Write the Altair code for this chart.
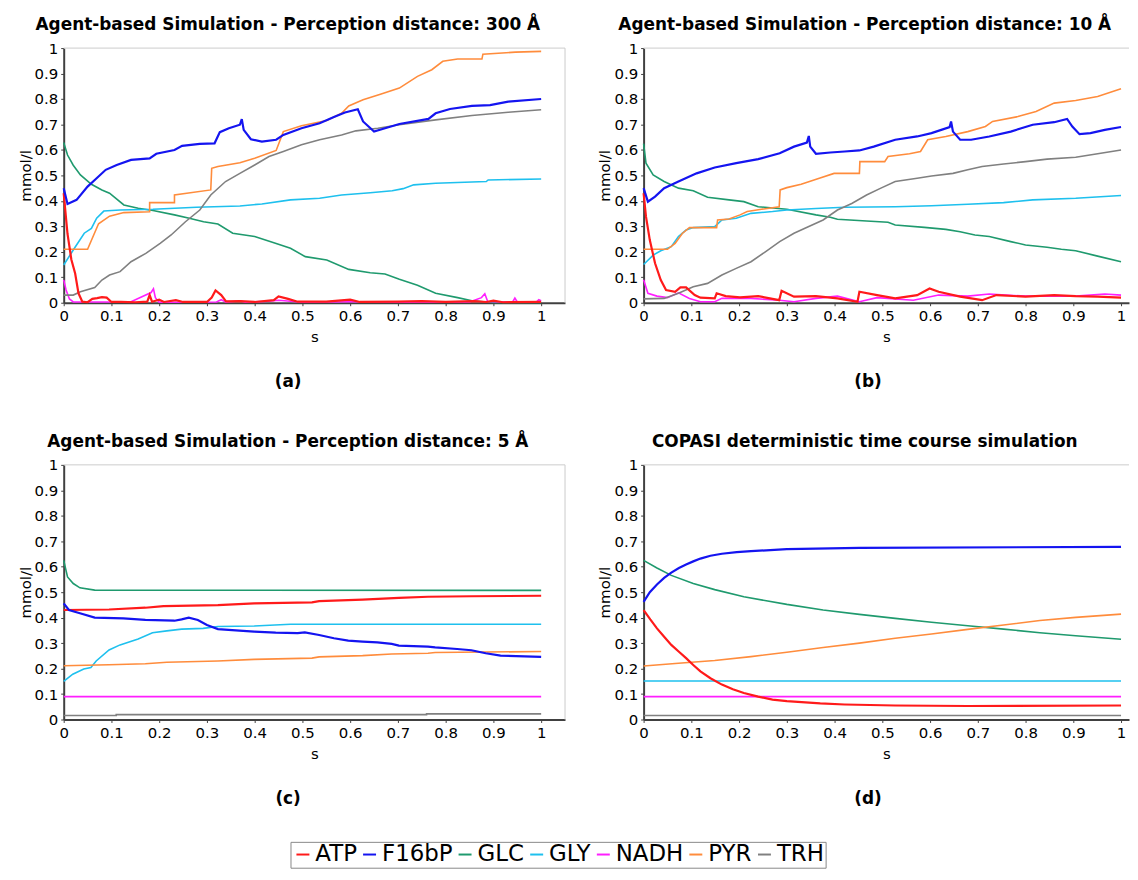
import altair as alt
import pandas as pd

SPECIES = ["ATP", "F16bP", "GLC", "GLY", "NADH", "PYR", "TRH"]
COLORS = ["#ff1a1a", "#1414f0", "#1f9a6e", "#1ec0ee", "#ff1eff", "#ff8c3c", "#808080"]
X_TICKS = [0, 0.1, 0.2, 0.3, 0.4, 0.5, 0.6, 0.7, 0.8, 0.9, 1]
Y_TICKS = [0, 0.1, 0.2, 0.3, 0.4, 0.5, 0.6, 0.7, 0.8, 0.9, 1]

TITLE_A = "Agent-based Simulation - Perception distance: 300 Å"
TITLE_B = "Agent-based Simulation - Perception distance: 10 Å"
TITLE_C = "Agent-based Simulation - Perception distance: 5 Å"
TITLE_D = "COPASI deterministic time course simulation"

# ---------------- panel (a) ----------------
A_ATP = [(0, 0.43), (0.008, 0.27), (0.016, 0.17), (0.024, 0.115), (0.031, 0.037), (0.039, 0.004),
         (0.05, 0.002), (0.06, 0.015), (0.07, 0.018), (0.08, 0.022), (0.09, 0.02), (0.1, 0.003),
         (0.12, 0.003), (0.15, 0.002), (0.175, 0.004), (0.18, 0.03), (0.185, 0.004), (0.2, 0.012),
         (0.21, 0.003), (0.235, 0.01), (0.25, 0.003), (0.3, 0.003), (0.31, 0.02), (0.318, 0.048),
         (0.33, 0.03), (0.34, 0.005), (0.37, 0.006), (0.4, 0.003), (0.44, 0.01), (0.45, 0.025),
         (0.47, 0.015), (0.49, 0.004), (0.55, 0.004), (0.6, 0.012), (0.62, 0.003), (0.7, 0.004),
         (0.75, 0.006), (0.8, 0.003), (0.86, 0.006), (0.885, 0.003), (0.9, 0.008), (0.92, 0.002),
         (1.0, 0.003)]
A_F16 = [(0, 0.45), (0.008, 0.388), (0.027, 0.404), (0.05, 0.456), (0.065, 0.482), (0.088, 0.522),
         (0.111, 0.541), (0.141, 0.561), (0.18, 0.567), (0.194, 0.585), (0.232, 0.6), (0.248, 0.616),
         (0.285, 0.624), (0.316, 0.626), (0.327, 0.67), (0.346, 0.685), (0.369, 0.699), (0.373, 0.721),
         (0.377, 0.679), (0.392, 0.642), (0.415, 0.633), (0.445, 0.64), (0.46, 0.659), (0.498, 0.685),
         (0.536, 0.705), (0.566, 0.729), (0.589, 0.747), (0.616, 0.76), (0.627, 0.712), (0.65, 0.672),
         (0.673, 0.685), (0.703, 0.702), (0.764, 0.722), (0.779, 0.744), (0.809, 0.761), (0.855, 0.773),
         (0.893, 0.776), (0.931, 0.79), (1.0, 0.8)]
A_GLC = [(0, 0.629), (0.008, 0.58), (0.02, 0.54), (0.035, 0.502), (0.058, 0.465), (0.08, 0.443),
         (0.096, 0.43), (0.126, 0.384), (0.156, 0.371), (0.187, 0.362), (0.232, 0.345), (0.263, 0.332),
         (0.293, 0.318), (0.323, 0.309), (0.354, 0.273), (0.4, 0.26), (0.445, 0.233), (0.475, 0.214),
         (0.506, 0.181), (0.551, 0.168), (0.597, 0.131), (0.642, 0.118), (0.673, 0.113), (0.703, 0.092),
         (0.741, 0.069), (0.779, 0.037), (0.825, 0.02), (0.855, 0.008), (0.885, 0.003), (0.9, 0.001),
         (1.0, 0.001)]
A_GLY = [(0, 0.148), (0.02, 0.207), (0.043, 0.273), (0.058, 0.292), (0.069, 0.332), (0.084, 0.36),
         (0.118, 0.364), (0.187, 0.367), (0.278, 0.375), (0.369, 0.38), (0.415, 0.388), (0.475, 0.404),
         (0.536, 0.41), (0.582, 0.423), (0.642, 0.432), (0.688, 0.44), (0.711, 0.448), (0.733, 0.463),
         (0.779, 0.469), (0.885, 0.476), (0.889, 0.482), (1.0, 0.486)]
A_NADH = [(0, 0.09), (0.005, 0.05), (0.012, 0.015), (0.02, 0.003), (0.14, 0.003), (0.183, 0.04),
          (0.188, 0.055), (0.192, 0.02), (0.2, 0.002), (0.32, 0.003), (0.33, 0.012), (0.34, 0.002),
          (0.37, 0.008), (0.38, 0.002), (0.43, 0.006), (0.45, 0.01), (0.5, 0.002), (0.6, 0.004),
          (0.7, 0.002), (0.85, 0.003), (0.875, 0.02), (0.882, 0.035), (0.888, 0.005), (0.94, 0.002),
          (0.945, 0.018), (0.95, 0.003), (0.99, 0.003), (0.995, 0.012), (1.0, 0.008)]
A_PYR = [(0, 0.21), (0.05, 0.21), (0.073, 0.31), (0.096, 0.34), (0.126, 0.354), (0.18, 0.357),
         (0.18, 0.393), (0.232, 0.393), (0.232, 0.423), (0.308, 0.443), (0.31, 0.528), (0.323, 0.535),
         (0.369, 0.55), (0.4, 0.567), (0.445, 0.598), (0.46, 0.672), (0.498, 0.695), (0.551, 0.716),
         (0.582, 0.744), (0.597, 0.773), (0.627, 0.797), (0.665, 0.82), (0.703, 0.843), (0.741, 0.889),
         (0.771, 0.915), (0.794, 0.948), (0.825, 0.957), (0.876, 0.957), (0.878, 0.976), (0.946, 0.984),
         (1.0, 0.987)]
A_TRH = [(0, 0.03), (0.02, 0.03), (0.035, 0.043), (0.065, 0.06), (0.08, 0.089), (0.096, 0.109),
         (0.118, 0.122), (0.141, 0.161), (0.172, 0.194), (0.202, 0.233), (0.225, 0.266), (0.255, 0.318),
         (0.285, 0.364), (0.308, 0.423), (0.339, 0.476), (0.369, 0.508), (0.4, 0.541), (0.43, 0.574),
         (0.46, 0.594), (0.498, 0.62), (0.536, 0.64), (0.582, 0.659), (0.612, 0.675), (0.658, 0.685),
         (0.703, 0.699), (0.779, 0.718), (0.855, 0.735), (0.931, 0.748), (1.0, 0.758)]

# ---------------- panel (b) ----------------
B_ATP = [(0, 0.43), (0.005, 0.338), (0.013, 0.246), (0.024, 0.155), (0.036, 0.089), (0.047, 0.05),
         (0.066, 0.043), (0.077, 0.06), (0.089, 0.06), (0.107, 0.03), (0.119, 0.02), (0.149, 0.017),
         (0.153, 0.037), (0.172, 0.026), (0.202, 0.021), (0.24, 0.026), (0.284, 0.01), (0.289, 0.047),
         (0.315, 0.024), (0.361, 0.026), (0.406, 0.017), (0.448, 0.004), (0.452, 0.043), (0.489, 0.03),
         (0.527, 0.017), (0.573, 0.03), (0.599, 0.056), (0.618, 0.043), (0.663, 0.024), (0.709, 0.01),
         (0.739, 0.03), (0.8, 0.024), (0.86, 0.03), (0.905, 0.026), (0.951, 0.024), (1.0, 0.02)]
B_F16 = [(0, 0.45), (0.009, 0.397), (0.024, 0.417), (0.043, 0.45), (0.073, 0.476), (0.111, 0.508),
         (0.149, 0.531), (0.194, 0.548), (0.24, 0.564), (0.285, 0.587), (0.315, 0.613), (0.342, 0.629),
         (0.346, 0.655), (0.349, 0.613), (0.361, 0.585), (0.391, 0.59), (0.421, 0.594), (0.452, 0.598),
         (0.482, 0.613), (0.527, 0.64), (0.573, 0.653), (0.603, 0.666), (0.641, 0.69), (0.644, 0.712),
         (0.648, 0.672), (0.663, 0.64), (0.686, 0.64), (0.724, 0.653), (0.769, 0.672), (0.815, 0.699),
         (0.86, 0.709), (0.887, 0.722), (0.898, 0.692), (0.913, 0.662), (0.936, 0.666), (0.966, 0.679),
         (1.0, 0.69)]
B_GLC = [(0, 0.625), (0.005, 0.548), (0.02, 0.502), (0.043, 0.476), (0.073, 0.45), (0.104, 0.44),
         (0.134, 0.414), (0.179, 0.404), (0.21, 0.397), (0.24, 0.377), (0.3, 0.367), (0.361, 0.345),
         (0.391, 0.336), (0.406, 0.328), (0.467, 0.321), (0.512, 0.316), (0.527, 0.305), (0.588, 0.296),
         (0.633, 0.288), (0.663, 0.279), (0.694, 0.266), (0.724, 0.26), (0.769, 0.24), (0.8, 0.227),
         (0.845, 0.218), (0.875, 0.21), (0.905, 0.204), (0.951, 0.183), (1.0, 0.161)]
B_GLY = [(0, 0.15), (0.02, 0.187), (0.036, 0.204), (0.058, 0.22), (0.073, 0.26), (0.089, 0.286),
         (0.104, 0.295), (0.149, 0.299), (0.164, 0.325), (0.194, 0.332), (0.225, 0.351), (0.27, 0.358),
         (0.3, 0.364), (0.361, 0.37), (0.421, 0.375), (0.527, 0.377), (0.603, 0.381), (0.679, 0.387),
         (0.754, 0.393), (0.815, 0.404), (0.905, 0.41), (1.0, 0.421)]
B_NADH = [(0, 0.09), (0.009, 0.037), (0.028, 0.026), (0.05, 0.02), (0.073, 0.039), (0.096, 0.017),
          (0.119, 0.004), (0.149, 0.004), (0.164, 0.017), (0.225, 0.017), (0.285, 0.01), (0.315, 0.004),
          (0.361, 0.017), (0.406, 0.026), (0.452, 0.004), (0.489, 0.02), (0.565, 0.01), (0.618, 0.03),
          (0.679, 0.026), (0.724, 0.034), (0.8, 0.026), (0.905, 0.026), (0.966, 0.034), (1.0, 0.03)]
B_PYR = [(0, 0.21), (0.05, 0.21), (0.066, 0.233), (0.081, 0.272), (0.096, 0.295), (0.153, 0.295),
         (0.155, 0.325), (0.179, 0.329), (0.202, 0.345), (0.217, 0.358), (0.247, 0.367), (0.284, 0.377),
         (0.286, 0.443), (0.3, 0.452), (0.33, 0.465), (0.368, 0.489), (0.399, 0.508), (0.452, 0.508),
         (0.453, 0.554), (0.505, 0.554), (0.512, 0.574), (0.557, 0.585), (0.58, 0.594), (0.595, 0.64),
         (0.633, 0.653), (0.679, 0.672), (0.716, 0.692), (0.731, 0.712), (0.784, 0.731), (0.822, 0.751),
         (0.86, 0.784), (0.905, 0.794), (0.951, 0.81), (1.0, 0.84)]
B_TRH = [(0, 0.015), (0.043, 0.017), (0.073, 0.037), (0.104, 0.063), (0.134, 0.076), (0.164, 0.109),
         (0.194, 0.135), (0.225, 0.161), (0.255, 0.2), (0.285, 0.24), (0.315, 0.273), (0.346, 0.299),
         (0.376, 0.325), (0.406, 0.364), (0.436, 0.39), (0.467, 0.423), (0.497, 0.45), (0.527, 0.476),
         (0.573, 0.489), (0.603, 0.498), (0.648, 0.508), (0.679, 0.522), (0.709, 0.535), (0.754, 0.545),
         (0.8, 0.554), (0.845, 0.564), (0.905, 0.571), (0.951, 0.585), (1.0, 0.6)]

# ---------------- panel (c) ----------------
C_ATP = [(0, 0.43), (0.095, 0.432), (0.171, 0.439), (0.209, 0.445), (0.323, 0.449), (0.399, 0.456),
         (0.52, 0.46), (0.535, 0.465), (0.626, 0.471), (0.702, 0.478), (0.763, 0.482), (0.854, 0.484),
         (1.0, 0.486)]
C_F16 = [(0, 0.456), (0.011, 0.43), (0.034, 0.417), (0.065, 0.4), (0.125, 0.397), (0.171, 0.391),
         (0.232, 0.388), (0.247, 0.393), (0.262, 0.4), (0.281, 0.391), (0.3, 0.371), (0.323, 0.355),
         (0.368, 0.349), (0.399, 0.345), (0.444, 0.341), (0.49, 0.339), (0.505, 0.342), (0.535, 0.332),
         (0.566, 0.319), (0.596, 0.31), (0.626, 0.306), (0.657, 0.303), (0.687, 0.297), (0.702, 0.29),
         (0.763, 0.286), (0.778, 0.283), (0.824, 0.277), (0.854, 0.272), (0.884, 0.26), (0.915, 0.251),
         (1.0, 0.246)]
C_GLC = [(0, 0.625), (0.008, 0.56), (0.02, 0.534), (0.034, 0.517), (0.065, 0.508), (1.0, 0.507)]
C_GLY = [(0, 0.15), (0.019, 0.178), (0.042, 0.198), (0.057, 0.204), (0.068, 0.23), (0.095, 0.273),
         (0.118, 0.293), (0.156, 0.316), (0.186, 0.341), (0.216, 0.348), (0.247, 0.355), (0.292, 0.358),
         (0.323, 0.365), (0.399, 0.367), (0.475, 0.374), (1.0, 0.374)]
C_NADH = [(0, 0.09), (1.0, 0.09)]
C_PYR = [(0, 0.211), (0.095, 0.215), (0.171, 0.219), (0.216, 0.225), (0.323, 0.23), (0.399, 0.236),
         (0.52, 0.241), (0.535, 0.246), (0.626, 0.251), (0.687, 0.257), (0.763, 0.26), (0.778, 0.263),
         (1.0, 0.267)]
C_TRH = [(0, 0.016), (0.11, 0.016), (0.11, 0.019), (0.76, 0.019), (0.76, 0.022), (1.0, 0.022)]

# ---------------- panel (d) ----------------
D_ATP = [(0, 0.43), (0.014, 0.393), (0.028, 0.358), (0.043, 0.325), (0.058, 0.293), (0.074, 0.266),
         (0.089, 0.241), (0.104, 0.214), (0.119, 0.189), (0.14, 0.162), (0.164, 0.137), (0.187, 0.119),
         (0.21, 0.104), (0.24, 0.09), (0.27, 0.078), (0.3, 0.072), (0.331, 0.068), (0.37, 0.063),
         (0.421, 0.059), (0.527, 0.055), (0.679, 0.053), (1.0, 0.055)]
D_F16 = [(0, 0.462), (0.013, 0.5), (0.028, 0.53), (0.043, 0.556), (0.058, 0.577), (0.074, 0.595),
         (0.089, 0.609), (0.104, 0.621), (0.119, 0.632), (0.14, 0.643), (0.164, 0.651), (0.195, 0.657),
         (0.225, 0.661), (0.3, 0.669), (0.452, 0.674), (1.0, 0.678)]
D_GLC = [(0, 0.625), (0.028, 0.595), (0.058, 0.566), (0.104, 0.534), (0.149, 0.51), (0.21, 0.482),
         (0.3, 0.452), (0.376, 0.43), (0.452, 0.413), (0.527, 0.397), (0.603, 0.382), (0.679, 0.368),
         (0.754, 0.355), (0.83, 0.341), (0.905, 0.329), (1.0, 0.315)]
D_GLY = [(0, 0.151), (1.0, 0.151)]
D_NADH = [(0, 0.09), (1.0, 0.09)]
D_PYR = [(0, 0.21), (0.073, 0.221), (0.149, 0.232), (0.225, 0.247), (0.3, 0.264), (0.376, 0.283),
         (0.452, 0.3), (0.527, 0.319), (0.603, 0.336), (0.679, 0.354), (0.754, 0.371), (0.83, 0.389),
         (0.905, 0.401), (1.0, 0.414)]
D_TRH = [(0, 0.016), (1.0, 0.016)]

FONT = "DejaVu Sans"
PLOT_H = 256
W_LEFT, XMAX_LEFT = 504, 1.05
W_RIGHT, XMAX_RIGHT = 488, 1.0167


def frame(series):
    rows = []
    for name, pts in zip(SPECIES, series):
        for i, (t, v) in enumerate(pts):
            rows.append({"species": name, "t": t, "v": v, "i": i})
    return pd.DataFrame(rows)


def panel(series, title, caption, width, xmax, right_border, title_dx):
    df = frame(series)
    x_axis = alt.Axis(values=X_TICKS, tickCount=20, title="s", format="~g", labelPadding=3,
                      titlePadding=6, labelFlush=False, labelOverlap=False)
    y_axis = alt.Axis(values=Y_TICKS, tickCount=20, title="mmol/l", format="~g", labelPadding=3,
                      titlePadding=1, labelFlush=False, labelOverlap=False)
    x = alt.X("t:Q", scale=alt.Scale(domain=[0, xmax], nice=False, zero=False), axis=x_axis)
    y = alt.Y("v:Q", scale=alt.Scale(domain=[0, 1], nice=False), axis=y_axis)
    color = alt.Color("species:N", title=None,
                      scale=alt.Scale(domain=SPECIES, range=COLORS),
                      legend=alt.Legend(orient="none", legendX=228, legendY=798, direction="horizontal",
                                        symbolType="stroke", symbolStrokeWidth=2, symbolSize=170,
                                        labelFont=FONT, labelFontSize=23, labelColor="black",
                                        labelOffset=1, columnPadding=1, padding=1, symbolOffset=0,
                                        strokeColor="#888888", columns=7))
    base = alt.Chart(df)
    thin = base.transform_filter(
        "datum.species != 'ATP' && datum.species != 'F16bP'"
    ).mark_line(strokeWidth=1.6).encode(x=x, y=y, color=color, order="i:Q")
    thick = base.transform_filter(
        "datum.species == 'ATP' || datum.species == 'F16bP'"
    ).mark_line(strokeWidth=2.2).encode(x=x, y=y, color=color, order="i:Q")
    one = pd.DataFrame({"k": [0]})
    layers = [thin, thick]
    layers.append(alt.Chart(one).mark_rule(color="#cccccc", strokeWidth=1).encode(
        y=alt.Y(datum=1, axis=y_axis)))
    if right_border:
        layers.append(alt.Chart(one).mark_rule(color="#cccccc", strokeWidth=1).encode(
            x=alt.X(datum=xmax, axis=x_axis)))
    cap = alt.Chart(one).mark_text(font=FONT, fontSize=17, fontWeight="bold", color="black",
                                   baseline="middle", align="center").encode(
        x=alt.X(datum=0.47, axis=x_axis), y=alt.value(PLOT_H + 80), text=alt.value(caption))
    layers.append(cap)
    return alt.layer(*layers).properties(
        width=width, height=PLOT_H,
        title=alt.TitleParams(text=title, font=FONT, fontSize=17, fontWeight="bold", color="black",
                              anchor="middle", frame="bounds", offset=7, dx=title_dx))


pa = panel([A_ATP, A_F16, A_GLC, A_GLY, A_NADH, A_PYR, A_TRH], TITLE_A, "(a)", W_LEFT, XMAX_LEFT, True, -4)
pb = panel([B_ATP, B_F16, B_GLC, B_GLY, B_NADH, B_PYR, B_TRH], TITLE_B, "(b)", W_RIGHT, XMAX_RIGHT, False, 1)
pc = panel([C_ATP, C_F16, C_GLC, C_GLY, C_NADH, C_PYR, C_TRH], TITLE_C, "(c)", W_LEFT, XMAX_LEFT, True, -4)
pd_ = panel([D_ATP, D_F16, D_GLC, D_GLY, D_NADH, D_PYR, D_TRH], TITLE_D, "(d)", W_RIGHT, XMAX_RIGHT, False, 1)

chart = alt.concat(pa, pb, pc, pd_, columns=2, spacing={"row": 163, "column": 79}, bounds="flush").properties(
    padding={"left": 9, "top": 5, "right": 0, "bottom": 0}, background="white"
).configure_view(stroke="transparent").configure_axis(
    grid=False, domainColor="#404040", domainWidth=2, tickColor="#404040", tickSize=3,
    labelFont=FONT, labelFontSize=15, labelColor="black", labelOverlap=False,
    titleFont=FONT, titleFontSize=15, titleFontWeight="normal", titleColor="black"
)

chart.save("out.html", embed_options={"renderer": "svg", "actions": False})
